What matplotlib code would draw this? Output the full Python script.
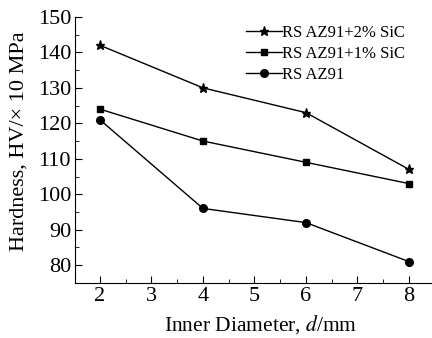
import numpy as np
import matplotlib
matplotlib.use("Agg")
import matplotlib.pyplot as plt
from matplotlib.ticker import MultipleLocator

plt.rcParams['font.family'] = ['Liberation Serif', 'DejaVu Serif']
plt.rcParams['mathtext.fontset'] = 'stix'

diameter = [2, 4, 6, 8]
sic2 = [142, 130, 123, 107]
sic1 = [124, 115, 109, 103]
az91 = [121, 96, 92, 81]

fig = plt.figure(figsize=(4.32, 3.38), dpi=100)
ax = fig.add_axes([0.174, 0.163, 0.824, 0.787])

ax.plot(diameter, sic2, 'k-*', ms=6.5, lw=1, label="RS AZ91+2% SiC")
ax.plot(diameter, sic1, 'k-s', ms=5, lw=1, label="RS AZ91+1% SiC")
ax.plot(diameter, az91, 'k-o', ms=5.5, lw=1, label="RS AZ91")

ax.set_xlim(1.52, 8.43)
ax.set_ylim(75, 150)
ax.xaxis.set_major_locator(MultipleLocator(1))
ax.xaxis.set_minor_locator(MultipleLocator(0.5))
ax.yaxis.set_minor_locator(MultipleLocator(5))
ax.set_yticks(np.arange(80, 151, 10))
ax.tick_params(which='both', direction='in', labelsize=16, pad=3)
ax.tick_params(which='major', length=5)
ax.tick_params(which='minor', length=3)
ax.spines['top'].set_visible(False)
ax.spines['right'].set_visible(False)

ax.set_xlabel("Inner Diameter, $d$/mm", fontsize=15.5)
ax.set_ylabel("Hardness, HV/\u00d7 10 MPa", fontsize=16)
ax.xaxis.set_label_coords(0.522, -0.115)
ax.yaxis.set_label_coords(-0.132, 0.534)

ax.legend(loc='upper right', bbox_to_anchor=(0.946, 0.995), frameon=False,
          fontsize=12, handlelength=2.2, handletextpad=0.0, labelspacing=0.3,
          borderaxespad=0)

fig.savefig("out.png", dpi=100)
